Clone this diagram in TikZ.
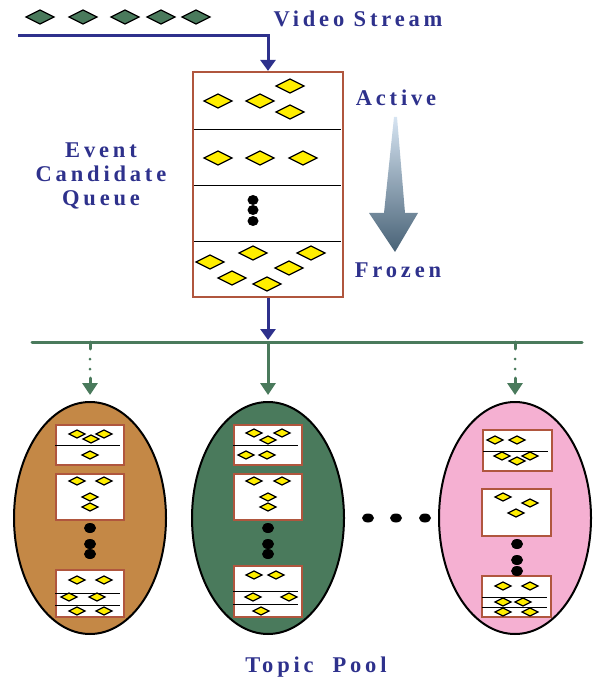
\documentclass[tikz,border=0pt]{standalone}
\usepackage{fontspec}
\setmainfont{Liberation Serif}
\newfontfamily\spacedfont[LetterSpace=17]{Liberation Serif}
\usetikzlibrary{arrows.meta, shapes.geometric, positioning}

\definecolor{navy}{RGB}{46,49,140}
\definecolor{leaf}{RGB}{74,122,92}
\definecolor{rust}{RGB}{176,86,62}
\definecolor{clay}{RGB}{196,136,70}
\definecolor{blush}{RGB}{245,176,210}
\definecolor{gold}{RGB}{255,238,0}
\definecolor{fadetop}{RGB}{214,228,242}
\definecolor{fadebot}{RGB}{72,98,118}

% yellow gem: x, y, half width
\newcommand{\gem}[3]{\filldraw[fill=gold, draw=black, line width=1.2pt] (#1-#3,#2) -- (#1,#2-#3/2) -- (#1+#3,#2) -- (#1,#2+#3/2) -- cycle;}

\tikzset{
  title/.style={font=\spacedfont\bfseries\fontsize{22.5}{24}\selectfont, text=navy, inner sep=0pt},
  navyline/.style={draw=navy, line width=3pt},
  busline/.style={draw=leaf, line width=3pt},
  pool/.style={ellipse, draw=black, line width=2pt, minimum width=152pt, minimum height=232pt, inner sep=0pt},
  slot/.style={draw=rust, fill=white, line width=2.2pt},
  rule/.style={draw=black, line width=0.9pt}
}

\begin{document}
\begin{tikzpicture}[x=1pt,y=-1pt]
        \useasboundingbox (0,0) rectangle (595,684);

% Video stream
        \foreach \x in {40,83,125,161,196} {
          \filldraw[fill=leaf, draw=black, line width=1.2pt] (\x-14,17) -- (\x,10) -- (\x+14,17) -- (\x,24) -- cycle;
        }
        \node[title] (video) at (358,19) {Video Stream};
        \coordinate (src) at (18,36);

% Event candidate queue
        \node[draw=rust, line width=2.2pt, minimum width=150pt, minimum height=225pt, inner sep=0pt] (queue) at (268,184.5) {};
        \draw[navyline, -{Triangle[width=15pt,length=11pt]}] (src) -| (queue.north);
        \foreach \y in {129,185,241} {
          \draw[rule] (194,\y) -- (341,\y);
        }
        \foreach \x/\y in {218/101, 260/101, 290/86, 290/112, 218/158, 260/158, 303/158,
                           210/262, 253/253, 232/278, 267/284, 289/268, 311/253} {
          \gem{\x}{\y}{14}
        }
        \foreach \y in {200,210,221} {
          \fill[black] (253,\y) ellipse (5.5 and 5);
        }
        \node[title, align=center] (ecq) at (101,176) {Event\\Candidate\\Queue};

% Active to frozen
        \node[title] (active) at (396,98) {Active};
        \node[title] (frozen) at (398,270) {Frozen};
        \shade[top color=fadetop, bottom color=fadebot]
        (394,117) -- (397,117) -- (405,213) -- (418,213) -- (395,252) -- (369,213) -- (384,213) -- cycle;

% Topic pools
        \node[pool, fill=clay] (pool1) at (90,518) {};
        \node[pool, fill=leaf] (pool2) at (268,518) {};
        \node[pool, fill=blush] (pool3) at (515,518) {};

% Bus
        \coordinate (busL) at (32,342);
        \coordinate (busR) at (582,342);
        \draw[navyline, -{Triangle[width=15pt,length=11pt]}] (queue.south) -- ([yshift=2pt]queue.south |- busL);
        \draw[busline, line cap=round] (busL) -- (busR);
        \draw[busline, -{Triangle[width=15pt,length=12pt]}, shorten >=6pt] (pool2.north |- busL) -- (pool2.north);
        \foreach \p in {pool1,pool3} {
          \draw[busline, line cap=round, dash pattern=on 7pt off 10pt on 0pt off 10pt on 0pt off 9pt on 40pt,
                -{Triangle[width=15pt,length=12pt]}, shorten >=6pt] (\p.north |- busL) -- (\p.north);
        }

% Slots in pool 1
        \draw[slot] (56,425) rectangle (124,465);
        \draw[slot] (56,474) rectangle (124,520);
        \draw[slot] (56,570) rectangle (124,617);
        \draw[rule] (55,445) -- (120,445);
        \draw[rule] (55,593) -- (120,593);
        \draw[rule] (55,605) -- (120,605);
        \foreach \x/\y in {77/434, 91/439, 104/434, 90/455, 77/481, 104/481, 90/497, 90/507,
                           77/580, 104/580, 69/597, 97/597, 77/611, 104/611} {
          \gem{\x}{\y}{8}
        }
        \foreach \y in {528,544,554} {
          \fill[black] (90,\y) ellipse (6 and 5);
        }

% Slots in pool 2
        \draw[slot] (234,425) rectangle (302,465);
        \draw[slot] (234,474) rectangle (302,520);
        \draw[slot] (234,566) rectangle (302,617);
        \draw[rule] (233,445) -- (298,445);
        \draw[rule] (233,591) -- (298,591);
        \draw[rule] (233,604) -- (298,604);
        \foreach \x/\y in {254/433, 268/440, 282/433, 246/455, 267/455, 254/481, 282/481, 268/497, 268/507,
                           254/575, 276/575, 253/597, 289/597, 261/611} {
          \gem{\x}{\y}{8}
        }
        \foreach \y in {528,544,554} {
          \fill[black] (268,\y) ellipse (6 and 5);
        }

% Slots in pool 3
        \draw[slot] (483,430) rectangle (552,471);
        \draw[slot] (482,489) rectangle (551,536);
        \draw[slot] (482,576) rectangle (551,617);
        \draw[rule] (483,451) -- (548,451);
        \draw[rule] (482,597) -- (547,597);
        \draw[rule] (482,607) -- (547,607);
        \foreach \x/\y in {495/440, 517/440, 502/456, 517/461, 530/456, 503/497, 530/503, 516/513,
                           503/586, 530/586, 503/602, 523/602, 503/612, 530/612} {
          \gem{\x}{\y}{8}
        }
        \foreach \y in {544,560,571} {
          \fill[black] (517,\y) ellipse (6 and 5);
        }

% More pools
        \foreach \x in {368,396,425} {
          \fill[black] (\x,518) ellipse (6 and 4.5);
        }
        \node[title] (topic) at (316,667) {Topic\ \ Pool};

      \end{tikzpicture}
\end{document}
